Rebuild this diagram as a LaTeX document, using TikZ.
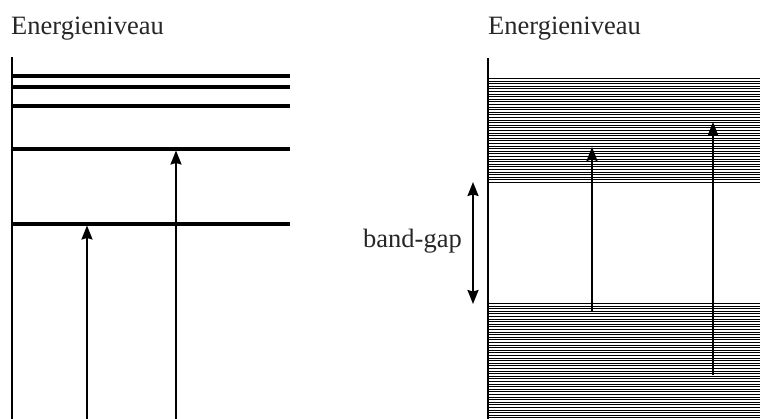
\documentclass[tikz,border=0pt]{standalone}
\usepackage{fontspec}
\setmainfont{Liberation Serif}
\usetikzlibrary{arrows.meta}
\begin{document}
\begin{tikzpicture}[x=1pt,y=-1pt,
  axisline/.style={line width=2.2pt},
  level/.style={line width=3.2pt},
  bandline/.style={line width=1.1pt},
  updown/.style={line width=1.7pt,-{Stealth[length=14pt,width=11pt,inset=1.5pt]}},
  gaparrow/.style={line width=1.7pt,{Stealth[length=14pt,width=11pt,inset=1.5pt]}-{Stealth[length=14pt,width=11pt,inset=1.5pt]}},
  lbl/.style={font=\fontsize{26.5}{30}\selectfont,text=black!85,inner sep=0pt,anchor=base west}]
\useasboundingbox (0,0) rectangle (760,419);
% titles
\node[lbl] (t1) at (11,35) {Energieniveau};
\node[lbl] (t2) at (488,35) {Energieniveau};
% left panel
\coordinate (la0) at (12,57);
\coordinate (la1) at (12,419);
\draw[axisline] (la0) -- (la1);
\foreach \y in {76,87,106,149,224} \draw[level] (12,\y) -- (290,\y);
\coordinate (a1s) at (87,419);
\coordinate (a1e) at (87,225.5);
\coordinate (a2s) at (176,419);
\coordinate (a2e) at (176,150.5);
\draw[updown] (a1s) -- (a1e);
\draw[updown] (a2s) -- (a2e);
% right panel
\foreach \i in {0,...,40} \draw[bandline] (488,78.5+\i*2.6) -- (760,78.5+\i*2.6);
\foreach \i in {0,...,44} \draw[bandline] (488,303.5+\i*2.6) -- (760,303.5+\i*2.6);
\coordinate (ra0) at (488,58);
\coordinate (ra1) at (488,419);
\draw[axisline] (ra0) -- (ra1);
\coordinate (b1s) at (592,312);
\coordinate (b1e) at (592,147);
\coordinate (b2s) at (713,375);
\coordinate (b2e) at (713,122);
\draw[updown] (b1s) -- (b1e);
\draw[updown] (b2s) -- (b2e);
\coordinate (g0) at (473,182);
\coordinate (g1) at (473,304);
\draw[gaparrow] (g0) -- (g1);
\node[lbl] (bg) at (363,248) {band-gap};
\end{tikzpicture}
\end{document}
